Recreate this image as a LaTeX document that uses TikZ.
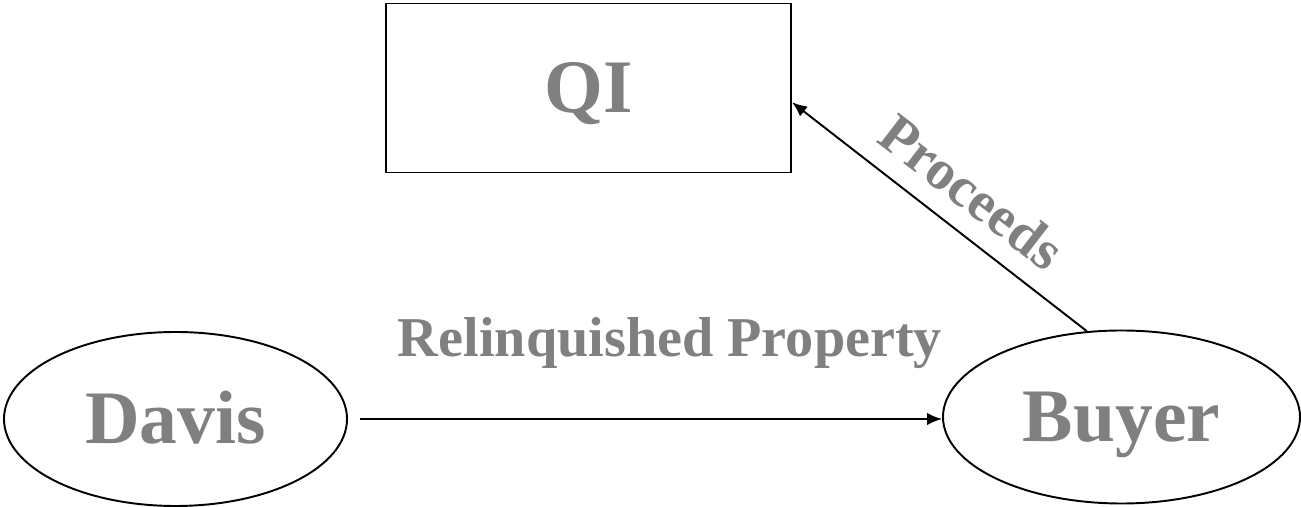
\documentclass[tikz,border=0pt]{standalone}
\usepackage{fontspec}
\setmainfont{Liberation Serif}
\usetikzlibrary{arrows.meta, shapes.geometric}
\definecolor{txtgray}{RGB}{128,128,128}

\begin{document}
\begin{tikzpicture}[>={Latex[length=0.3cm, width=0.25cm]}, line width=1.1pt,
  party/.style={draw, ellipse, inner sep=0pt, text=txtgray,
    font=\fontsize{43}{43}\selectfont\bfseries, text height=1.0cm, text depth=0pt},
  lbl/.style={text=txtgray, inner sep=0pt, font=\fontsize{32}{32}\selectfont\bfseries}]
  \useasboundingbox (0,0) rectangle (26.02,10.14);
  % QI box at the top
  \node[draw, rectangle, minimum width=8.1cm, minimum height=3.38cm, inner sep=0pt,
    text=txtgray, font=\fontsize{43}{43}\selectfont\bfseries,
    text height=1.0cm, text depth=0pt] (qi) at (11.77,8.38) {QI};
  % Davis and Buyer
  \node[party, minimum width=6.86cm, minimum height=3.48cm] (davis) at (3.51,1.76) {Davis};
  \node[party, minimum width=7.14cm, minimum height=3.46cm] (buyer) at (22.43,1.80) {Buyer};
  % Relinquished property goes to buyer
  \draw[->, shorten <=0.24cm] (davis.east) -- (davis.east -| buyer.west);
  \node[lbl, anchor=base] (relLbl) at (13.4,3.0) {Relinquished Property};
  % Proceeds go to QI
  \draw[->] (buyer.112) -- (qi.-4.6);
  \node[lbl, rotate=-37.5] (procLbl) at (19.44,6.30) {Proceeds};
\end{tikzpicture}
\end{document}
